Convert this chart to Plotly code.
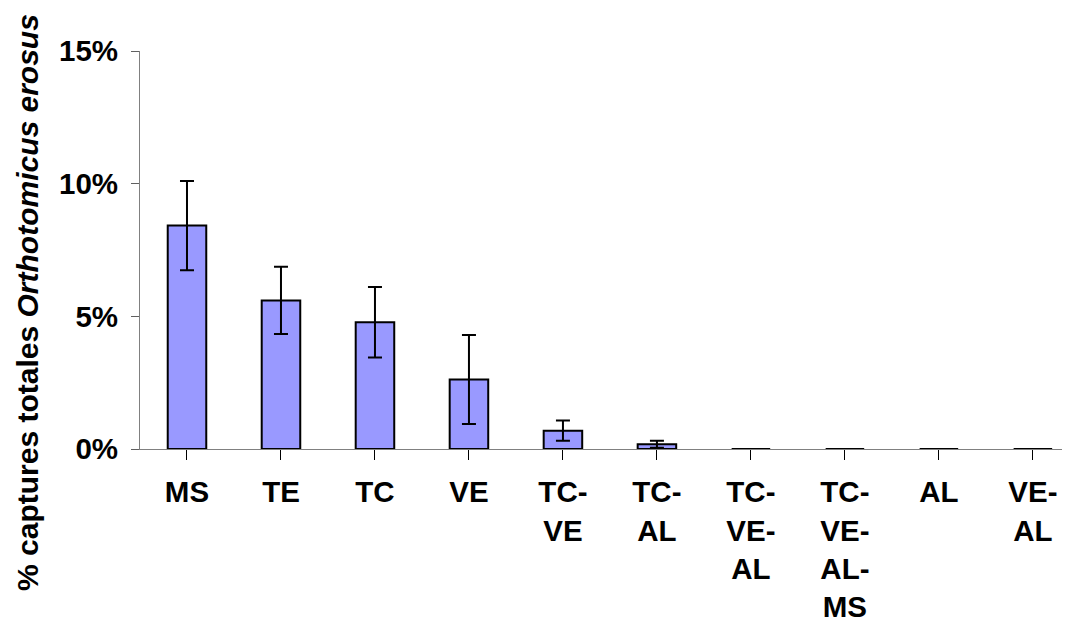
import plotly.graph_objects as go

categories = ["MS", "TE", "TC", "VE", "TC-VE", "TC-AL", "TC-VE-AL", "TC-VE-AL-MS", "AL", "VE-AL"]
tick_labels = ["MS", "TE", "TC", "VE", "TC-<br>VE", "TC-<br>AL", "TC-<br>VE-<br>AL",
               "TC-<br>VE-<br>AL-<br>MS", "AL", "VE-<br>AL"]
values = [8.42, 5.6, 4.78, 2.62, 0.69, 0.18, 0, 0, 0, 0]
errors = [1.68, 1.27, 1.33, 1.68, 0.38, 0.13, 0, 0, 0, 0]
y_ticks = [0, 5, 10, 15]
y_tick_labels = ["0%", "5%", "10%", "15%"]

FONT = "Liberation Sans, Arial, sans-serif"

fig = go.Figure(go.Bar(
    x=list(range(len(categories))),
    y=values,
    marker=dict(color="#9999FF", line=dict(color="black", width=2)),
    error_y=dict(type="data", array=errors, visible=True, color="black",
                 thickness=2, width=7),
    width=0.41,
    hoverinfo="skip",
))

fig.update_layout(
    width=1070, height=619,
    margin=dict(l=132, r=0, t=43, b=178),
    paper_bgcolor="white", plot_bgcolor="white",
    font=dict(family=FONT, size=29, color="black"),
    showlegend=False,
)
fig.update_xaxes(
    range=[-0.5, 9.48],
    tickmode="array", tickvals=list(range(len(categories))), ticktext=tick_labels,
    tickson="boundaries", ticks="outside", ticklen=10, tickcolor="black", tickwidth=1,
    showline=True, linecolor="#808080", linewidth=1,
    showgrid=False, zeroline=False,
    tickfont=dict(family=FONT, size=29.5, weight="bold"),
    ticklabelstandoff=7,
)
fig.update_yaxes(
    range=[0, 15],
    tickmode="array", tickvals=y_ticks, ticktext=y_tick_labels,
    ticks="outside", ticklen=8, tickcolor="#606060", tickwidth=1,
    showline=True, linecolor="#808080", linewidth=1,
    showgrid=False, zeroline=False,
    tickfont=dict(family=FONT, size=29.5, weight="bold"),
    ticklabelstandoff=7,
)
fig.add_annotation(
    text="<b>% captures totales <i>Orthotomicus erosus</i></b>",
    xref="paper", yref="paper", x=-0.1194, y=0.367,
    xanchor="center", yanchor="middle", textangle=-90, showarrow=False,
    font=dict(family=FONT, size=30, color="black"),
)

fig.write_html("out.html")
